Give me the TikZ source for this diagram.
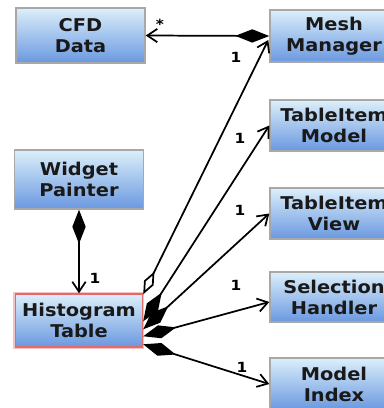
\documentclass[tikz,border=0pt]{standalone}
\usepackage{fontspec}
\setmainfont{DejaVu Sans}[FakeStretch=1.1]
\usetikzlibrary{arrows.meta,calc}
\definecolor{boxtop}{HTML}{DCEFFA}
\definecolor{boxbot}{HTML}{6A98E0}
\definecolor{boxgray}{HTML}{A8A8A8}
\definecolor{histred}{HTML}{E46A6A}
\begin{document}
\begin{tikzpicture}[x=0.75pt,y=-0.75pt,
  cls/.style={draw=boxgray, line width=1.1pt, top color=boxtop, bottom color=boxbot,
    align=center, font=\fontsize{13.2}{15.75}\selectfont\bfseries, text=black!90, inner sep=0pt},
  comp/.style={line width=1.3pt, {Diamond[length=25.5pt,width=10pt]}-{Straight Barb[length=7.5pt,width=10pt]}},
  agg/.style={line width=1.3pt, {Diamond[open,length=19pt,width=8pt]}-{Straight Barb[length=7.5pt,width=10pt]}},
  lbl/.style={font=\fontsize{10.5}{12}\selectfont\bfseries, inner sep=0pt}]
\useasboundingbox (0,0) rectangle (384,408);
\clip (0,0) rectangle (384,408);
\fill[white] (0,0) rectangle (384,408);
% boxes
\node[cls, minimum width=96.75pt, minimum height=41.25pt] (cfd) at (80.5,35.5) {CFD\\Data};
\node[cls, minimum width=96pt, minimum height=39pt] (mesh) at (334,36) {Mesh\\Manager};
\node[cls, minimum width=96pt, minimum height=38.25pt] (tmodel) at (334,125.5) {TableItem\\Model};
\node[cls, minimum width=96pt, minimum height=38.25pt] (tview) at (334,213.5) {TableItem\\View};
\node[cls, minimum width=96pt, minimum height=37.5pt] (sel) at (334,297) {Selection\\Handler};
\node[cls, minimum width=96pt, minimum height=39pt] (midx) at (334,384) {Model\\Index};
\node[cls, minimum width=96.75pt, minimum height=44.25pt] (widget) at (79,179.5) {Widget\\Painter};
\draw[histred!40, line width=3pt] (15,294) rectangle (142,347);
\node[cls, draw=histred, minimum width=95.25pt, minimum height=39.75pt] (hist) at (79,320.5) {Histogram\\Table};
% connectors
\draw[comp] (mesh.west) -- (cfd.east);
\draw[agg] ($(hist.north east)+(0,1)$) -- ($(mesh.west)+(-1,4)$);
\draw[comp] ($(hist.north east)+(0,28)$) -- (tmodel.west);
\draw[comp] ($(hist.north east)+(0,36)$) -- (tview.west);
\draw[comp] ($(hist.north east)+(0,43)$) -- ($(sel.west)+(0,5)$);
\draw[comp] ($(hist.north east)+(0,51)$) -- (midx.west);
\draw[comp] (widget.south) -- (hist.north);
% labels
\node[lbl] (l0) at (160,24) {*};
\node[lbl] (l1) at (236,57) {1};
\node[lbl] (l2) at (240,138) {1};
\node[lbl] (l3) at (240,210) {1};
\node[lbl] (l4) at (236,285) {1};
\node[lbl] (l5) at (242,367) {1};
\node[lbl] (l6) at (95,278) {1};
\end{tikzpicture}
\end{document}
